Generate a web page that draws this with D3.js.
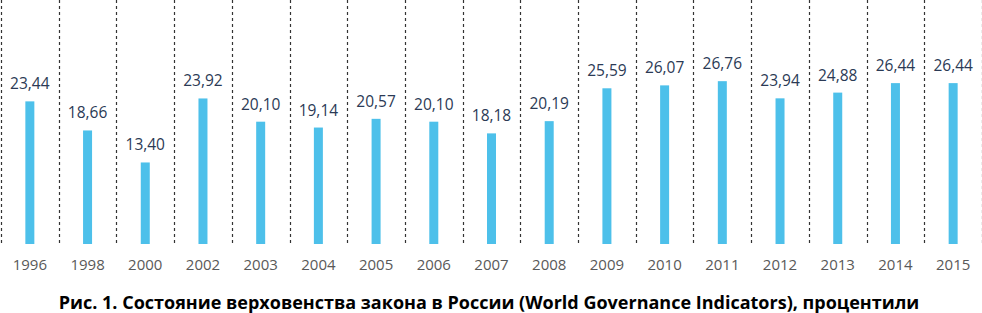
<!DOCTYPE html>
<html>
<head>
<meta charset="utf-8">
<script src="https://cdn.jsdelivr.net/npm/d3@7"></script>
<style>
  body { margin: 0; background: #fff; }
  svg { display: block; }
</style>
</head>
<body>
<div class="container"></div>
<script>
var years = ["1996","1998","2000","2002","2003","2004","2005","2006","2007","2008","2009","2010","2011","2012","2013","2014","2015"];
var values = [23.44,18.66,13.40,23.92,20.10,19.14,20.57,20.10,18.18,20.19,25.59,26.07,26.76,23.94,24.88,26.44,26.44];
var title = "Рис. 1. Состояние верховенства закона в России (World Governance Indicators), процентили";

const WIDTH = 982;
const HEIGHT = 313;
const BASE = 244;

var fmt = function(v){ return v.toFixed(2).replace(".", ","); };

var x = d3.scaleBand()
    .domain(years)
    .range([1, 982]);

var y = d3.scaleLinear()
    .domain([0, 40.1])
    .range([BASE, 0]);

var svg = d3.select(".container").append("svg")
    .attr("width", WIDTH)
    .attr("height", HEIGHT);

// dashed separators between the years
var edges = years.map(function(d){ return x(d); }).concat([x(years[years.length-1]) + x.bandwidth()]);
svg.selectAll("line.sep").data(edges).enter().append("line")
    .attr("class", "sep")
    .attr("x1", function(d){ return Math.round(d) + 0.5; })
    .attr("x2", function(d){ return Math.round(d) + 0.5; })
    .attr("y1", 0)
    .attr("y2", BASE + 1)
    .attr("stroke", "#333")
    .attr("stroke-width", 1.2)
    .attr("stroke-dasharray", "3,3");

var barW = 9;
svg.selectAll("rect").data(values).enter().append("rect")
    .attr("x", function(d, i){ return x(years[i]) + x.bandwidth() / 2 - barW / 2; })
    .attr("y", function(d){ return y(d); })
    .attr("width", barW)
    .attr("height", function(d){ return BASE - y(d); })
    .attr("fill", "#4DC0EA");

svg.selectAll("text.val").data(values).enter().append("text")
    .attr("class", "val")
    .attr("x", function(d, i){ return x(years[i]) + x.bandwidth() / 2; })
    .attr("y", function(d){ return y(d) - 12; })
    .attr("text-anchor", "middle")
    .attr("font-family", "Open Sans")
    .attr("font-size", 15.5)
    .attr("fill", "#2B3A55")
    .text(fmt);

var xAxis = d3.axisBottom(x).tickSize(0).tickPadding(0);
var gx = svg.append("g")
    .attr("transform", "translate(0," + 259 + ")")
    .call(xAxis);
gx.select(".domain").remove();
gx.selectAll("text")
    .attr("font-family", "Open Sans")
    .attr("font-size", 15)
    .attr("fill", "#595959")
    .attr("dy", "0.71em")
    .attr("y", 0);

svg.append("text")
    .attr("x", 489)
    .attr("y", 309)
    .attr("text-anchor", "middle")
    .attr("font-family", "Open Sans")
    .attr("font-weight", "bold")
    .attr("font-size", 18)
    .attr("fill", "#000")
    .text(title);
</script>
</body>
</html>
